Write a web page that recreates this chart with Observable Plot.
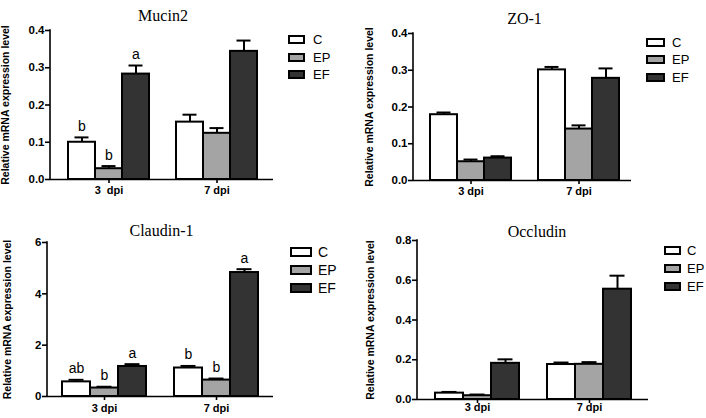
<!DOCTYPE html>
<html>
<head>
<meta charset="utf-8">
<script src="https://cdn.jsdelivr.net/npm/d3@7"></script>
<script src="https://cdn.jsdelivr.net/npm/@observablehq/plot@0.6"></script>
<style>
  body { margin: 0; background: #fff; }
  #wrap { position: relative; width: 706px; height: 418px; overflow: hidden; background: #fff; }
  .panel { position: absolute; width: 353px; height: 209px; }
  .legend { position: absolute; font-family: "Liberation Sans", Arial, sans-serif; color: #000; }
  .legend .row { position: absolute; left: 0; display: flex; align-items: center; white-space: nowrap; }
  .legend .sw { box-sizing: border-box; border: 2px solid #000; }
</style>
</head>
<body>
<div id="wrap"></div>
<script>
// ---- data ----
const groups = ["3 dpi", "7 dpi"];
const mucinGroupLabels = ["3\u00a0 dpi", "7 dpi"];
const otherGroupLabels = ["3 dpi", "7 dpi"];
const series = ["C", "EP", "EF"];
const fills = ["#ffffff", "#a4a4a4", "#333333"];
const yLabel = "Relative mRNA expression level";

// order: 3 dpi C, EP, EF, 7 dpi C, EP, EF
const mucin2Mean = [0.100, 0.029, 0.283, 0.154, 0.124, 0.344];
const mucin2Err = [0.013, 0.007, 0.023, 0.020, 0.014, 0.029];
const mucin2Letters = ["b", "b", "a", "", "", ""];
const mucin2Ticks = [0, 0.1, 0.2, 0.3, 0.4];

const zo1Mean = [0.179, 0.051, 0.061, 0.301, 0.140, 0.278];
const zo1Err = [0.006, 0.006, 0.005, 0.008, 0.010, 0.027];
const zo1Letters = ["", "", "", "", "", ""];
const zo1Ticks = [0, 0.1, 0.2, 0.3, 0.4];

const claudin1Mean = [0.57, 0.33, 1.17, 1.11, 0.64, 4.83];
const claudin1Err = [0.08, 0.05, 0.09, 0.08, 0.06, 0.13];
const claudin1Letters = ["ab", "b", "a", "b", "b", "a"];
const claudin1Ticks = [0, 2, 4, 6];

const occludinMean = [0.032, 0.019, 0.182, 0.176, 0.177, 0.555];
const occludinErr = [0.006, 0.006, 0.020, 0.010, 0.011, 0.068];
const occludinLetters = ["", "", "", "", "", ""];
const occludinTicks = [0, 0.2, 0.4, 0.6, 0.8];

// ---- layout / drawing ----
const slotDomain = [...series.map(s => `${groups[0]}|${s}`), "gap", ...series.map(s => `${groups[1]}|${s}`)];

function makeRows(mean, err, letters) {
  return groups.flatMap((g, gi) => series.map((s, si) => ({
    key: `${g}|${s}`, series: s,
    mean: mean[gi * 3 + si], err: err[gi * 3 + si], letter: letters[gi * 3 + si]
  })));
}

// y-axis line drawn from the y scale, at the left edge of the frame
function yAxisLine(ticks) {
  return (index, scales, values, dimensions) => {
    const x = dimensions.marginLeft;
    const y0 = scales.y(ticks[0]);
    const y1 = scales.y(ticks[ticks.length - 1]);
    const line = d3.create("svg:line")
      .attr("x1", x).attr("x2", x).attr("y1", y0 + 0.8).attr("y2", y1 - 0.8)
      .attr("stroke", "#000").attr("stroke-width", 1.6);
    return line.node();
  };
}

function panel(cfg) {
  const rows = makeRows(cfg.mean, cfg.err, cfg.letters);
  const tickKeys = groups.map(g => `${g}|EP`);
  const plot = Plot.plot({
    width: 353, height: 209,
    marginLeft: cfg.ml, marginRight: cfg.mr, marginTop: cfg.mt, marginBottom: cfg.mb,
    style: { fontFamily: "'Liberation Sans', Arial, sans-serif", background: "transparent", overflow: "visible", color: "#000" },
    x: { domain: slotDomain, paddingInner: 0, paddingOuter: cfg.po, align: cfg.align, axis: null },
    y: { domain: [0, cfg.ticks[cfg.ticks.length - 1]], axis: null },
    color: { domain: series, range: fills },
    marks: [
      Plot.barY(rows, { x: "key", y: "mean", fill: "series", stroke: "#000", strokeWidth: 2 }),
      Plot.ruleX(rows, { x: "key", y1: "mean", y2: d => d.mean + d.err, stroke: "#000", strokeWidth: 2 }),
      Plot.tickY(rows, { x: "key", y: d => d.mean + d.err, inset: 6.5, stroke: "#000", strokeWidth: 2 }),
      Plot.text(rows.filter(d => d.letter), { x: "key", y: d => d.mean + d.err, text: "letter", dy: -11, fontSize: 14, fill: "#000" }),
      Plot.axisY({
        ticks: cfg.ticks, tickFormat: cfg.fmt, tickSize: 5, tickPadding: 1,
        fontSize: 11.5, fontWeight: "bold", stroke: "#000", fill: "#000", strokeWidth: 1.6, label: null
      }),
      yAxisLine(cfg.ticks),
      Plot.ruleY([0], { stroke: "#000", strokeWidth: 1.6 }),
      Plot.axisX({
        ticks: tickKeys, tickFormat: k => cfg.groupLabels[groups.indexOf(k.split("|")[0])],
        tickSize: 4, tickPadding: cfg.tp, fontSize: 11, fontWeight: "bold",
        stroke: "#000", fill: "#000", strokeWidth: 1.6, label: null
      }),
      Plot.text([yLabel], { text: d => d, frameAnchor: "left", textAnchor: "middle", rotate: -90, dx: cfg.ldx, fontSize: 10.5, fontWeight: "bold", fill: "#000" }),
      Plot.text([cfg.title], { text: d => d, frameAnchor: "top", dy: cfg.tdy, dx: cfg.tdx, fontFamily: "'Liberation Serif', 'Times New Roman', serif", fontSize: 16, fill: "#000" })
    ]
  });
  const div = document.createElement("div");
  div.className = "panel";
  div.style.left = cfg.left + "px";
  div.style.top = cfg.top + "px";
  div.appendChild(plot);
  document.getElementById("wrap").appendChild(div);

  // legend
  const lg = document.createElement("div");
  lg.className = "legend";
  lg.style.left = cfg.lgx + "px";
  lg.style.top = cfg.lgy + "px";
  lg.style.fontSize = cfg.lgfs + "px";
  series.forEach((s, i) => {
    const row = document.createElement("div");
    row.className = "row";
    row.style.top = (i * cfg.lgstep) + "px";
    row.style.height = "0px";
    const sw = document.createElement("div");
    sw.className = "sw";
    sw.style.width = cfg.lgw + "px";
    sw.style.height = cfg.lgh + "px";
    sw.style.background = fills[i];
    const lab = document.createElement("span");
    lab.textContent = s;
    lab.style.marginLeft = cfg.lggap + "px";
    row.appendChild(sw);
    row.appendChild(lab);
    lg.appendChild(row);
  });
  document.getElementById("wrap").appendChild(lg);
}

const f1 = d3.format(".1f");

panel({
  title: "Mucin2", mean: mucin2Mean, err: mucin2Err, letters: mucin2Letters, ticks: mucin2Ticks, fmt: f1,
  groupLabels: mucinGroupLabels, left: 0, top: 0,
  ml: 50, mr: 80, mt: 30, mb: 30, po: 0.59, align: 0.53, ldx: -45, tp: 3, tdy: -21, tdx: 1,
  lgx: 288, lgy: 39.5, lgstep: 17.5, lgw: 17, lgh: 9, lggap: 8, lgfs: 13
});
panel({
  title: "ZO-1", mean: zo1Mean, err: zo1Err, letters: zo1Letters, ticks: zo1Ticks, fmt: f1,
  groupLabels: otherGroupLabels, left: 353, top: 0,
  ml: 60, mr: 75, mt: 33, mb: 29, po: 0.52, align: 0.57, ldx: -44, tp: 3, tdy: -21, tdx: 2,
  lgx: 646, lgy: 42.7, lgstep: 17.3, lgw: 19, lgh: 9, lggap: 7, lgfs: 13
});
panel({
  title: "Claudin-1", mean: claudin1Mean, err: claudin1Err, letters: claudin1Letters, ticks: claudin1Ticks, fmt: d3.format("d"),
  groupLabels: otherGroupLabels, left: 0, top: 209,
  ml: 47, mr: 80, mt: 33, mb: 22, po: 0.49, align: 0.5, ldx: -39.5, tp: 4, tdy: -18, tdx: 1,
  lgx: 290, lgy: 251.7, lgstep: 18.2, lgw: 22, lgh: 10, lggap: 6, lgfs: 14
});
panel({
  title: "Occludin", mean: occludinMean, err: occludinErr, letters: occludinLetters, ticks: occludinTicks, fmt: f1,
  groupLabels: otherGroupLabels, left: 353, top: 209,
  ml: 64, mr: 58, mt: 31, mb: 19, po: 0.58, align: 0.5, ldx: -47, tp: 0, tdy: -15, tdx: 4,
  lgx: 664, lgy: 250.7, lgstep: 17.8, lgw: 17, lgh: 9, lggap: 6, lgfs: 13
});
</script>
</body>
</html>
